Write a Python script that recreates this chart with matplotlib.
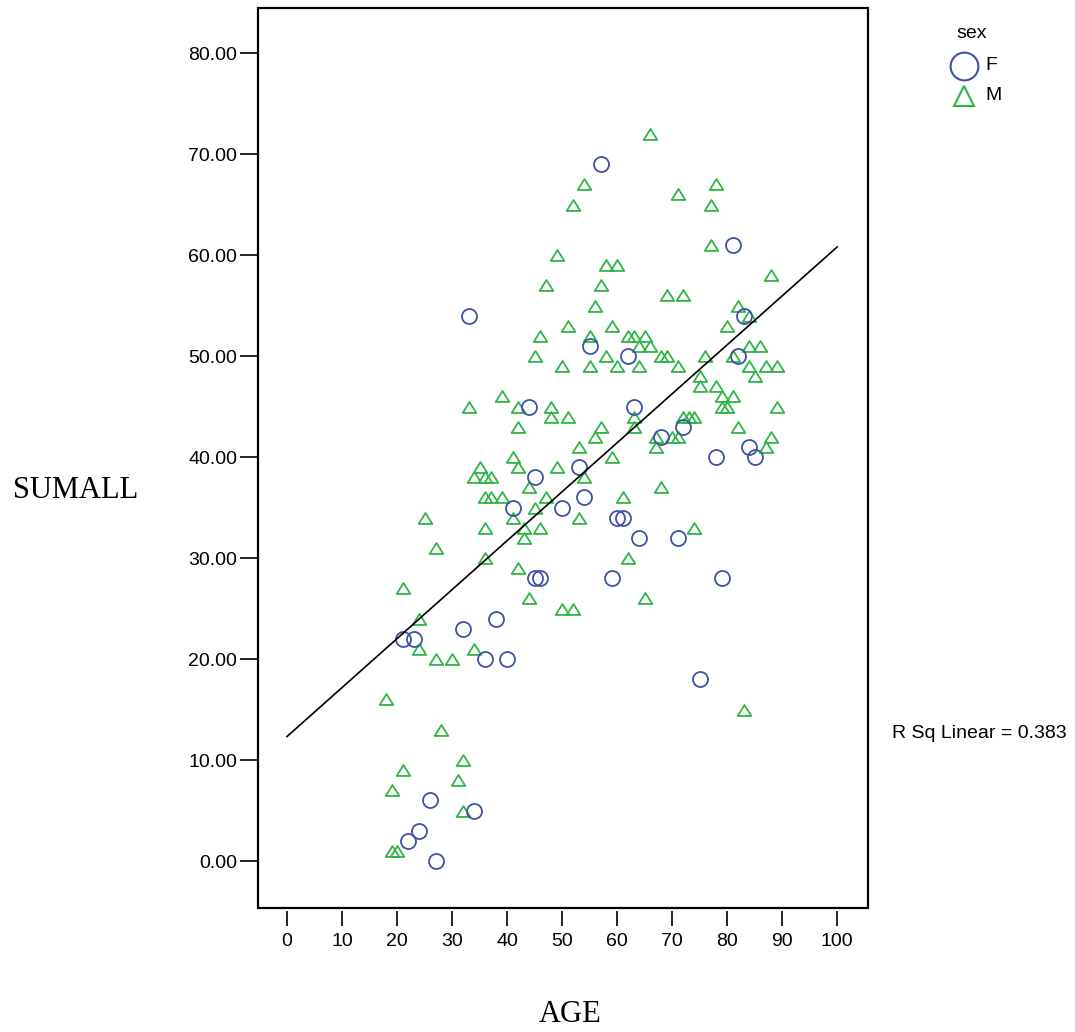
import numpy as np
import matplotlib
matplotlib.use("Agg")
import matplotlib.pyplot as plt
from matplotlib.lines import Line2D
from matplotlib.patches import Rectangle
from matplotlib.path import Path

# ---- data ----
f_age = [57, 81, 33, 83, 55, 62, 82, 44, 63, 45, 53, 72, 68, 78, 84, 85, 41, 54, 50,
         60, 61, 64, 71, 45, 46, 59, 79, 32, 38, 21, 23, 36, 40, 75, 26, 34, 24, 22, 27]
f_sum = [69, 61, 54, 54, 51, 50, 50, 45, 45, 38, 39, 43, 42, 40, 41, 40, 35, 36, 35,
         34, 34, 32, 32, 28, 28, 28, 28, 23, 24, 22, 22, 20, 20, 18, 6, 5, 3, 2, 0]

m_age = [66, 54, 52, 71, 78, 77, 77, 49, 58, 60, 57, 47, 88, 69, 72, 56, 82, 51, 59, 80,
         84, 46, 55, 62, 63, 65, 64, 66, 84, 86, 45, 58, 68, 69, 76, 81, 50, 55, 60, 64,
         71, 84, 87, 89, 85, 75, 75, 78, 39, 79, 81, 33, 42, 48, 79, 80, 89, 48, 51, 63,
         72, 73, 74, 42, 57, 63, 82, 56, 67, 70, 71, 88, 53, 67, 87, 41, 59, 35, 42, 49,
         34, 36, 37, 54, 44, 68, 36, 37, 39, 47, 61, 45, 25, 41, 53, 36, 43, 46, 74, 43,
         27, 36, 62, 42, 21, 44, 65, 50, 52, 24, 24, 34, 27, 30, 18, 83, 28, 32, 21, 31,
         19, 32, 19, 20]
m_sum = [72, 67, 65, 66, 67, 65, 61, 60, 59, 59, 57, 57, 58, 56, 56, 55, 55, 53, 53, 53,
         54, 52, 52, 52, 52, 52, 51, 51, 51, 51, 50, 50, 50, 50, 50, 50, 49, 49, 49, 49,
         49, 49, 49, 49, 48, 48, 47, 47, 46, 46, 46, 45, 45, 45, 45, 45, 45, 44, 44, 44,
         44, 44, 44, 43, 43, 43, 43, 42, 42, 42, 42, 42, 41, 41, 41, 40, 40, 39, 39, 39,
         38, 38, 38, 38, 37, 37, 36, 36, 36, 36, 36, 35, 34, 34, 34, 33, 33, 33, 33, 32,
         31, 30, 30, 29, 27, 26, 26, 25, 25, 24, 21, 21, 20, 20, 16, 15, 13, 10, 9, 8,
         7, 5, 1, 1]

x_ticks = [0, 10, 20, 30, 40, 50, 60, 70, 80, 90, 100]
y_ticks = [0, 10, 20, 30, 40, 50, 60, 70, 80]
legend_title = "sex"
group_labels = ["F", "M"]
x_label = "AGE"
y_label = "SUMALL"
rsq_text = "R Sq Linear = 0.383"

BLUE = "#3d52a8"
GREEN = "#2fb545"

plt.rcParams['font.family'] = ['Liberation Sans', 'DejaVu Sans']

fig = plt.figure(figsize=(10.75, 10.32), dpi=100)
W, H = 1075, 1032
ax = fig.add_axes([258 / W, 1 - 908 / H, (868 - 258) / W, (908 - 8) / H])

tri = Path([(-1, -0.8), (1, -0.8), (0, 0.8), (-1, -0.8)],
           [Path.MOVETO, Path.LINETO, Path.LINETO, Path.CLOSEPOLY])

ax.plot(m_age, m_sum, linestyle='none', marker=tri, markersize=9.8,
        markerfacecolor='none', markeredgecolor=GREEN, markeredgewidth=1.3, zorder=3)
ax.plot(f_age, f_sum, linestyle='none', marker='o', markersize=10.8,
        markerfacecolor='none', markeredgecolor=BLUE, markeredgewidth=1.3, zorder=3)

all_age = np.array(f_age + m_age, dtype=float)
all_sum = np.array(f_sum + m_sum, dtype=float)
slope, intercept = np.polyfit(all_age, all_sum, 1)
xl = np.array([0, 100])
ax.plot(xl, intercept + slope * xl, color='black', linewidth=1.2, zorder=4)

ax.set_xlim(-5.27, 105.6)
ax.set_ylim(-4.65, 84.46)
ax.set_xticks(x_ticks)
ax.set_xticklabels([str(v) for v in x_ticks])
ax.set_yticks(y_ticks)
ax.set_yticklabels(["%.2f" % v for v in y_ticks])

for s in ax.spines.values():
    s.set_visible(False)
ax.spines['bottom'].set_position(('outward', 2))
ax.add_patch(Rectangle((0, 0), 1, 1, transform=ax.transAxes, fill=False,
                       edgecolor='black', linewidth=1.6, clip_on=False, zorder=5))
ax.tick_params(axis='x', direction='out', length=11, width=1.2, pad=5,
               labelsize=14, colors='black')
ax.tick_params(axis='y', direction='out', length=13, width=1.2, pad=2,
               labelsize=14, colors='black')

fig.text(76 / W, 1 - 490 / H, y_label, family='Liberation Serif', fontsize=22,
         ha='center', va='center')
fig.text(570 / W, 1 - 1015 / H, x_label, family='Liberation Serif', fontsize=22,
         ha='center', va='center')
fig.text(892 / W, 1 - 733 / H, rsq_text, fontsize=14, ha='left', va='center')

# legend drawn by hand for exact placement
fig.text(972 / W, 1 - 33 / H, legend_title, fontsize=14, ha='center', va='center')
legend_rows = [(66, 'o', 20, BLUE), (96, '^', 14.5, GREEN)]
for (ypix, mk, ms, col), lab in zip(legend_rows, group_labels):
    fig.add_artist(Line2D([964 / W], [1 - ypix / H], transform=fig.transFigure,
                          linestyle='none', marker=mk, markersize=ms,
                          markerfacecolor='none', markeredgecolor=col,
                          markeredgewidth=1.5))
    fig.text(985 / W, 1 - ypix / H, lab, fontsize=14, ha='left', va='center')

fig.savefig("out.png", dpi=100)
